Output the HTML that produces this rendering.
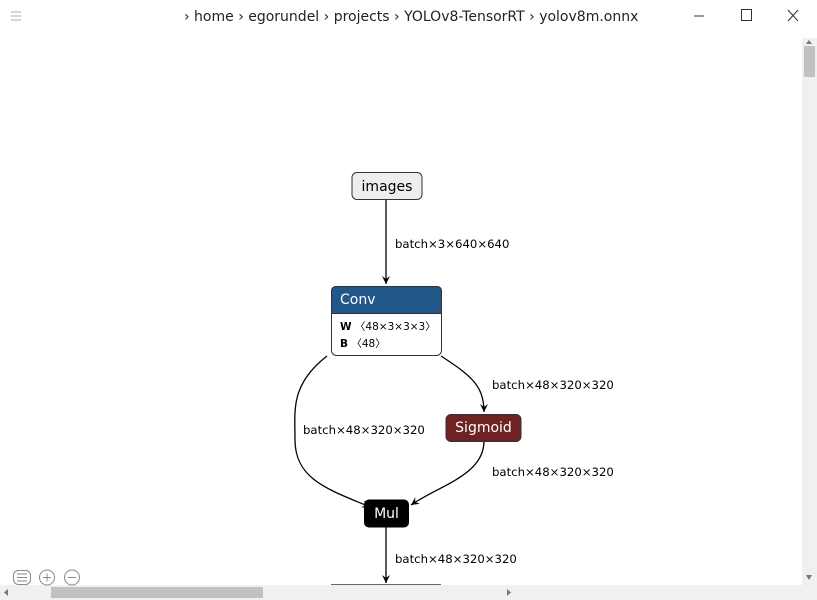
<!DOCTYPE html>
<html><head><meta charset="utf-8"><style>
body{margin:0;width:817px;height:600px;overflow:hidden;background:#fff;font-family:"Liberation Sans","DejaVu Sans",sans-serif;}
svg{position:absolute;left:0;top:0}
</style></head><body>
<svg width="817" height="600" viewBox="0 0 817 600" font-family="'DejaVu Sans','Liberation Sans',sans-serif">
<defs><marker id="a" markerWidth="10" markerHeight="10" refX="8" refY="5" orient="auto" markerUnits="userSpaceOnUse"><path d="M0,1 L8,5 L0,9 L3,5 Z" fill="#000"/></marker></defs>
<g stroke="#aaa" stroke-width="1"><line x1="11" y1="12" x2="21" y2="12"/><line x1="11" y1="16" x2="21" y2="16"/><line x1="11" y1="20" x2="21" y2="20"/></g>
<text x="184" y="21" font-size="14" fill="#222">› home › egorundel › projects › YOLOv8-TensorRT › yolov8m.onnx</text>
<line x1="694" y1="16" x2="704" y2="16" stroke="#333"/>
<rect x="741.5" y="9.5" width="10" height="11" fill="none" stroke="#333"/>
<path d="M788,10 L798,21 M798,10 L788,21" stroke="#333"/>
<rect x="802" y="38" width="15" height="547" fill="#f0f0f0"/>
<rect x="804" y="46" width="11" height="31" fill="#c1c1c1"/>
<path d="M806,44 L812,44 L809,40Z" fill="#777"/>
<path d="M806,575 L812,575 L809,580Z" fill="#777"/>
<rect x="0" y="585" width="817" height="15" fill="#f0f0f0"/>
<rect x="51" y="587" width="212" height="11" fill="#c1c1c1"/>
<path d="M8,589 L8,596 L4,592.5Z" fill="#777"/>
<path d="M507,589 L507,596 L511,592.5Z" fill="#777"/>
<g fill="none" stroke="#000" stroke-width="1.3">
<path d="M386,199 L386,284" marker-end="url(#a)"/>
<path d="M327,356 C290,385 295,410 295,440 C295,480 330,490 370,507" marker-end="url(#a)"/>
<path d="M441,356 C470,375 484,385 484,412" marker-end="url(#a)"/>
<path d="M484,441 C484,475 440,485 411,505" marker-end="url(#a)"/>
<path d="M386,527 L386,583" marker-end="url(#a)"/>
</g>
<g font-size="11.7" fill="#000">
<text x="395" y="248">batch×3×640×640</text>
<text x="492" y="389">batch×48×320×320</text>
<text x="303" y="434">batch×48×320×320</text>
<text x="492" y="476">batch×48×320×320</text>
<text x="395" y="563">batch×48×320×320</text>
</g>
<rect x="352" y="172.5" width="70" height="27" rx="5" fill="#eee" stroke="#333"/>
<text x="387" y="191" font-size="14" text-anchor="middle">images</text>
<rect x="331.5" y="286.5" width="110" height="69" rx="5" fill="#fff" stroke="#333"/>
<path d="M331.5,313.5 L331.5,291.5 Q331.5,286.5 336.5,286.5 L436.5,286.5 Q441.5,286.5 441.5,291.5 L441.5,313.5Z" fill="#22578a" stroke="#333"/>
<text x="340" y="304" font-size="14" fill="#fff">Conv</text>
<text x="340" y="330" font-size="10.5"><tspan font-weight="bold">W</tspan> 〈48×3×3×3〉</text>
<text x="340" y="347" font-size="10.5"><tspan font-weight="bold">B</tspan> 〈48〉</text>
<rect x="446" y="414.5" width="75" height="27" rx="5" fill="#6e2222" stroke="#333"/>
<text x="483.5" y="432" font-size="14" fill="#fff" text-anchor="middle">Sigmoid</text>
<rect x="364" y="499.5" width="45" height="28" rx="5" fill="#000"/>
<text x="386.5" y="518" font-size="14" fill="#fff" text-anchor="middle">Mul</text>
<line x1="331" y1="584.5" x2="441" y2="584.5" stroke="#666"/>
<g fill="none" stroke="#888" stroke-width="1">
<rect x="13.5" y="570.5" width="17" height="14" rx="5"/>
<line x1="17" y1="574" x2="27" y2="574"/><line x1="17" y1="577.5" x2="27" y2="577.5"/><line x1="17" y1="581" x2="27" y2="581"/>
<circle cx="47" cy="577.5" r="7.5"/><line x1="43" y1="577.5" x2="51" y2="577.5"/><line x1="47" y1="573.5" x2="47" y2="581.5"/>
<circle cx="72" cy="577.5" r="7.5"/><line x1="68" y1="577.5" x2="76" y2="577.5"/>
</g>
</svg>
</body></html>
